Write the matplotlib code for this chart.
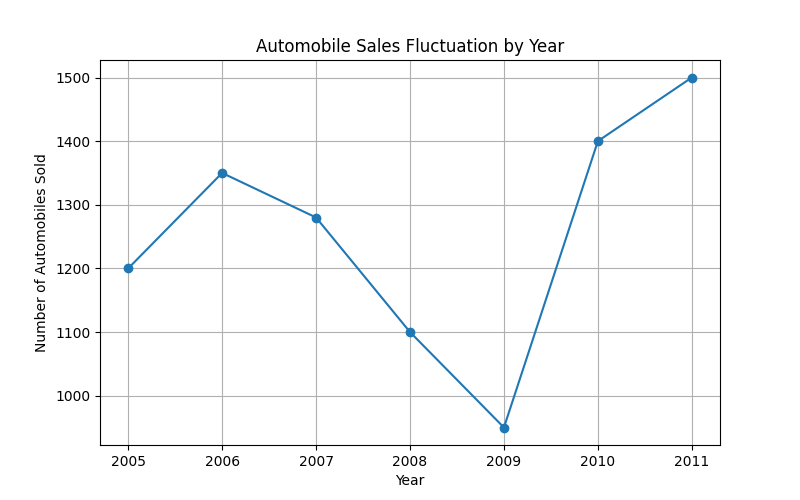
import matplotlib
matplotlib.use("Agg")
import matplotlib.pyplot as plt

years = [2005, 2006, 2007, 2008, 2009, 2010, 2011]
sales = [1200, 1350, 1280, 1100, 950, 1400, 1500]

fig, ax = plt.subplots(figsize=(8, 5), dpi=100)
ax.plot(years, sales, marker='o')
ax.set_title("Automobile Sales Fluctuation by Year")
ax.set_xlabel("Year")
ax.set_ylabel("Number of Automobiles Sold")
ax.grid(True)

fig.savefig("out.png")
